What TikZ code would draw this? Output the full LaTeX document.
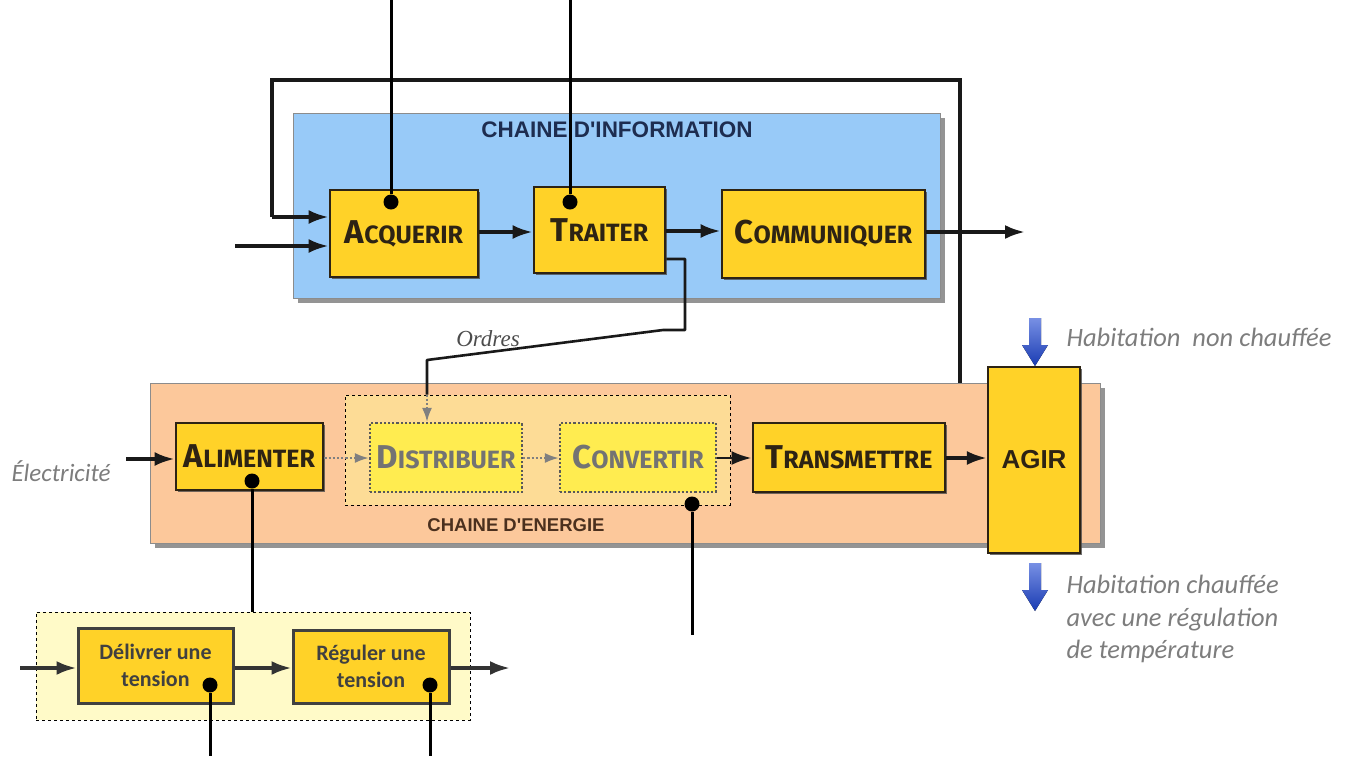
\documentclass[tikz,border=0pt]{standalone}
\usepackage{fontspec}
\usetikzlibrary{arrows.meta,shadows}
\newfontfamily\boxfont{Fira Sans}
\newfontfamily\titlefont{Liberation Sans}
\newfontfamily\notefont{Carlito}
\newfontfamily\ordfont{Liberation Serif}
% first letter large, the rest as small capitals
\newcommand\capfirst[2]{{\fontsize{33}{33}\selectfont #1}{\fontsize{25}{25}\selectfont #2}}

\definecolor{infoblue}{RGB}{152,202,248}
\definecolor{energyorange}{RGB}{252,200,155}
\definecolor{fngold}{RGB}{255,210,40}
\definecolor{fnpale}{RGB}{255,236,80}
\definecolor{zonefill}{RGB}{253,220,150}
\definecolor{subzone}{RGB}{255,250,200}
\definecolor{notegray}{RGB}{125,125,125}
\definecolor{infotitle}{RGB}{30,45,80}
\definecolor{energytitle}{RGB}{75,48,30}
\definecolor{fnborder}{RGB}{45,35,20}
\definecolor{arrowblue}{RGB}{30,70,210}

\tikzset{
  chain/.style={draw=black!45, line width=1pt,
    drop shadow={shadow xshift=5pt, shadow yshift=-5pt, fill=black!60, opacity=.7}},
  fn/.style={draw=fnborder, line width=2.8pt, fill=fngold, inner sep=0pt,
    font=\boxfont\bfseries, text=fnborder,
    drop shadow={shadow xshift=2pt, shadow yshift=-2pt, fill=black!70, opacity=.8}},
  paled/.style={draw=black!65, dotted, line width=2.2pt, fill=fnpale, inner sep=0pt,
    font=\boxfont\bfseries, text=black!55},
  subfn/.style={draw=black!75, line width=3pt, fill=fngold, inner sep=0pt, align=center,
    font=\notefont\bfseries\fontsize{22}{27}\selectfont, text=black!75},
  zone/.style={draw=black, dashed, line width=1pt},
  flow/.style={-{Latex[length=20pt,width=14pt]}, line width=3.5pt, draw=black!90},
  faint/.style={-{Latex[length=14pt,width=10pt]}, line width=2.2pt, draw=black!50, dotted},
  probe/.style={line width=3pt, draw=black},
  tap/.style={circle, fill=black, minimum size=15pt, inner sep=0pt},
  note/.style={font=\notefont\itshape\fontsize{26.5}{32.5}\selectfont, text=notegray, align=left},
  bluedown/.style={top color=arrowblue!60, bottom color=arrowblue!85!black, draw=none}
}

\begin{document}
\begin{tikzpicture}[x=1pt,y=-1pt]
\useasboundingbox (0,0) rectangle (1352,756);

% information chain
\node[chain, fill=infoblue, minimum width=647pt, minimum height=185pt] (info) at (616.5,205.5) {};
\node[font=\titlefont\bfseries\fontsize{22.5}{22.5}\selectfont, text=infotitle] (infolbl) at (617,130) {CHAINE D'INFORMATION};

\node[fn, minimum width=148pt, minimum height=87pt] (acq) at (404,233.5) {\capfirst{A}{CQUERIR}};
\node[fn, minimum width=131pt, minimum height=86pt] (trait) at (599.5,230) {\capfirst{T}{RAITER}};
\node[fn, minimum width=203pt, minimum height=88pt] (comm) at (823.5,234) {\capfirst{C}{OMMUNIQUER}};

% energy chain
\node[chain, fill=energyorange, minimum width=950pt, minimum height=160pt] (energy) at (625,463) {};
\node[zone, fill=zonefill, minimum width=385pt, minimum height=110pt] (zone) at (537.5,450) {};
\node[font=\titlefont\bfseries\fontsize{18.5}{18.5}\selectfont, text=energytitle] (energylbl) at (516,525) {CHAINE D'ENERGIE};

\node[fn, minimum width=147pt, minimum height=67pt] (alim) at (249.5,456.5) {\capfirst{A}{LIMENTER}};
\node[paled, minimum width=152pt, minimum height=69pt] (distr) at (446,457.5) {\capfirst{D}{ISTRIBUER}};
\node[paled, minimum width=156pt, minimum height=69pt] (conv) at (638,457.5) {\capfirst{C}{ONVERTIR}};
\node[fn, minimum width=192pt, minimum height=69pt] (trans) at (849,457.5) {\capfirst{T}{RANSMETTRE}};
\node[fn, line width=2.2pt, minimum width=92pt, minimum height=186pt,
      font=\titlefont\bfseries\fontsize{26}{26}\selectfont] (agir) at (1034,460) {AGIR};

% supply detail
\node[zone, fill=subzone, minimum width=434pt, minimum height=108pt] (sub) at (253,666) {};
\node[subfn, minimum width=155pt, minimum height=75pt] (deliv) at (155.5,665.5) {Délivrer une\\tension};
\node[subfn, minimum width=156pt, minimum height=73pt] (regul) at (371,666.5) {Réguler une\\tension};

% feedback loop from the energy chain back to the acquisition
\coordinate (loopA) at (960,383);
\coordinate (loopB) at (960,80);
\coordinate (loopC) at (272,80);
\coordinate (loopD) at (272,217);
\draw[line width=3.2pt, draw=black!90] (loopA) -- (loopB) -- (loopC) -- (loopD);
\draw[flow] (loopD) -- (acq.west |- loopD);

\coordinate (inAcq) at (235,246);
\draw[flow] (inAcq) -- (acq.west |- inAcq);
\draw[flow] (acq.east |- 0,232) -- (trait.west |- 0,232);
\draw[flow] (trait.east |- 0,231) -- (comm.west |- 0,231);
\coordinate (outComm) at (1025,232);
\draw[flow] (comm.east |- outComm) -- (outComm);

% orders from processing to distribution
\coordinate (ordA) at (685,259);
\coordinate (ordB) at (685,330);
\coordinate (ordC) at (663,330);
\coordinate (ordD) at (427,360);
\draw[line width=2.6pt, draw=black!90, line join=round] (trait.east |- ordA) -- (ordA) -- (ordB) -- (ordC) -- (ordD) -- (ordD |- zone.north);
\draw[faint] (ordD |- zone.north) -- (ordD |- distr.north);
\node[font=\ordfont\itshape\fontsize{23}{23}\selectfont, text=black!70] (ordlbl) at (488,339) {Ordres};

% energy flow
\coordinate (inAlim) at (126,459);
\draw[flow] (inAlim) -- (alim.west |- inAlim);
\draw[faint] (alim.east |- 0,458) -- (distr.west |- 0,458);
\draw[faint] (distr.east |- 0,458) -- (conv.west |- 0,458);
\draw[flow, line width=2.8pt] (conv.east |- 0,458) -- (trans.west |- 0,458);
\draw[flow] (trans.east |- 0,458) -- (agir.west |- 0,458);

% supply detail flow
\coordinate (inDeliv) at (20,668);
\coordinate (outRegul) at (510,668);
\draw[flow, draw=black!80] (inDeliv) -- (deliv.west |- inDeliv);
\draw[flow, draw=black!80] (deliv.east |- 0,668) -- (regul.west |- 0,668);
\draw[flow, draw=black!80] (regul.east |- outRegul) -- (outRegul);

% observation taps
\node[tap] (tAcq) at (391,202) {};
\node[tap] (tTrait) at (570,202) {};
\node[tap] (tAlim) at (252,481) {};
\node[tap] (tConv) at (692,504) {};
\node[tap] (tDeliv) at (210,685) {};
\node[tap] (tRegul) at (430,685) {};
\coordinate (topAcq) at (391,0);
\coordinate (topTrait) at (570,0);
\coordinate (endConv) at (692,635);
\coordinate (botDeliv) at (210,756);
\coordinate (botRegul) at (430,756);
\draw[probe] (topAcq) -- (tAcq);
\draw[probe] (topTrait) -- (tTrait);
\draw[probe] (tAlim) -- (tAlim |- sub.north);
\draw[probe] (tConv) -- (endConv);
\draw[probe] (tDeliv) -- (botDeliv);
\draw[probe] (tRegul) -- (botRegul);

% heat arrows on the action
\fill[bluedown] (1029,318) -- (1041,318) -- (1041,345) -- (1048,345) -- (1035,366) -- (1022,345) -- (1029,345) -- cycle;
\fill[bluedown] (1029,563) -- (1041,563) -- (1041,590) -- (1048,590) -- (1035,611) -- (1022,590) -- (1029,590) -- cycle;

% labels
\node[note, font=\notefont\itshape\fontsize{25}{30}\selectfont, anchor=west] (elec) at (8,471) {Électricité};
\node[note, anchor=west] (cold) at (1063,337) {Habitation\ \ non chauffée};
\node[note, anchor=north west] (warm) at (1063,572) {Habitation chauffée\\avec une régulation\\de température};
\end{tikzpicture}
\end{document}
